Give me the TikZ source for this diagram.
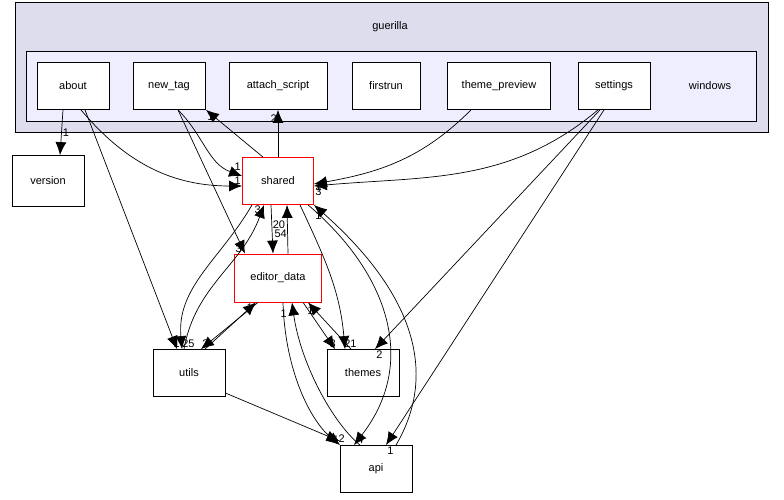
\documentclass[tikz,border=0pt]{standalone}
\usepackage{fontspec}
\setmainfont{Liberation Sans}
\usetikzlibrary{arrows.meta}
\definecolor{outerc}{HTML}{DDDDEE}
\definecolor{innerc}{HTML}{EEEEFF}
\begin{document}
\begin{tikzpicture}[x=1pt,y=-1pt,font=\fontsize{11}{12}\selectfont,
  box/.style={draw=black,fill=white,minimum width=72pt,minimum height=47pt,inner sep=1pt,line width=0.8pt},
  redbox/.style={box,draw=red},
  dep/.style={-{Latex[length=13pt,width=11pt]},line width=0.7pt},
  lbl/.style={inner sep=1pt,font=\fontsize{11}{12}\selectfont}]
\useasboundingbox (0,0) rectangle (784,500);
\fill[white] (0,0) rectangle (784,500);
\draw[fill=outerc,line width=0.8pt] (15,2) rectangle (768,132);
\node (guerilla) at (390,27) {guerilla};
\draw[fill=innerc,line width=0.8pt] (26,51) rectangle (756,121);
\node (windows) at (710,86) {windows};
\node[box] (about) at (73,86) {about};
\node[box] (newtag) at (169,86) {new\_tag};
\node[box,minimum width=98pt] (attach) at (278,86) {attach\_script};
\node[box,minimum width=68pt] (firstrun) at (386,86) {firstrun};
\node[box,minimum width=103pt] (themeprev) at (499,86) {theme\_preview};
\node[box] (settings) at (614,86) {settings};
\node[box,minimum height=51pt] (version) at (48,181) {version};
\node[redbox,minimum width=71pt] (shared) at (278,181) {shared};
\node[redbox,minimum width=87pt,minimum height=48pt] (editor) at (278,278) {editor\_data};
\node[box] (utils) at (189,373) {utils};
\node[box] (themes) at (363,373) {themes};
\node[box] (api) at (376,469) {api};

\draw[dep] ([xshift=-10pt]about.south) -- (version.north -| 60,0) node[lbl,pos=0.5,right]{1};
\draw[dep] ([xshift=8pt]about.south) to[out=-50,in=180] ([yshift=-5pt]shared.west) node[lbl,above left]{1};
\draw[dep] ([xshift=12pt]about.south) -- ([xshift=-12pt]utils.north) node[lbl,above left,xshift=4pt]{1};
\draw[dep] ([xshift=9pt]newtag.south) to[out=-45,in=160] ([yshift=5pt]shared.west) node[lbl,above left,yshift=4pt]{1};
\draw[dep] ([xshift=9pt]newtag.south) -- ([xshift=-33pt]editor.north) node[lbl,above left,xshift=-2pt]{3};
\draw[dep] ([xshift=-15pt]shared.north) -- ([xshift=37pt]newtag.south) node[lbl,below right,yshift=-2pt]{1};
\draw[dep] (shared.north) -- (attach.south) node[lbl,below left,yshift=-4pt]{2};
\draw[dep] ([xshift=-28pt]themeprev.south) to[out=-135,in=10] ([yshift=-3pt]shared.east) node[lbl,below right,yshift=2pt]{1};
\draw[dep] ([xshift=-16pt]settings.south) to[out=-140,in=5] ([yshift=-5pt]shared.east) node[lbl,below right]{3};
\draw[dep] ([xshift=-14pt]settings.south) -- ([xshift=12pt]themes.north) node[lbl,right,yshift=-6pt]{2};
\draw[dep] ([xshift=-10pt]settings.south) -- ([xshift=10pt]api.north) node[lbl,right,yshift=-6pt]{1};
\draw[dep] ([xshift=-7pt]shared.south) -- ([xshift=-5pt]editor.north) node[lbl,pos=0.6,right,xshift=1pt]{54};
\draw[dep] ([xshift=10pt]editor.north) -- ([xshift=9pt]shared.south) node[lbl,pos=0.6,left,xshift=-1pt]{20};
\draw[dep] ([xshift=-26pt]shared.south) to[out=-120,in=95] ([xshift=-7pt]utils.north) node[lbl,above right,xshift=-1pt]{25};
\draw[dep] ([xshift=-5pt]utils.north) to[out=80,in=-110] ([xshift=-14pt]shared.south) node[lbl,below left,xshift=-2pt]{3};
\draw[dep] ([xshift=16pt]utils.north) -- ([xshift=-22pt]editor.south) node[lbl,below left,xshift=-2pt]{1};
\draw[dep] ([xshift=-20pt]editor.south) -- ([xshift=12pt]utils.north) node[lbl,above right]{2};
\draw[dep] ([xshift=22pt]shared.south) to[out=-65,in=95] ([xshift=-18pt]themes.north) node[lbl,above right,xshift=-2pt]{21};
\draw[dep] ([xshift=30pt]shared.south) .. controls (385,270) and (420,360) .. ([xshift=-22pt]api.north) node[lbl,above right,xshift=2pt]{4};
\draw[dep] ([xshift=20pt]api.north) .. controls (440,370) and (410,290) .. (shared.south east) node[lbl,below right,yshift=-6pt]{1};
\draw[dep] ([xshift=5pt]editor.south) .. controls (285,370) and (310,420) .. ([xshift=-36pt]api.north) node[lbl,above,xshift=-4pt]{1};
\draw[dep] ([xshift=-16pt]api.north) .. controls (330,420) and (300,360) .. ([xshift=14pt]editor.south) node[lbl,below left,xshift=-4pt,yshift=-6pt]{1};
\draw[dep] ([xshift=-12pt]themes.north) -- ([xshift=30pt]editor.south) node[lbl,below right,xshift=-2pt,yshift=-3pt]{1};
\draw[dep] ([xshift=25pt]editor.south) -- ([xshift=-28pt]themes.north) node[lbl,above left,xshift=2pt]{3};
\draw[dep] (utils.east |- 0,393) -- ([yshift=4pt]api.west |- api.north) node[lbl,above,xshift=2pt,yshift=-3pt]{2};
\end{tikzpicture}
\end{document}
